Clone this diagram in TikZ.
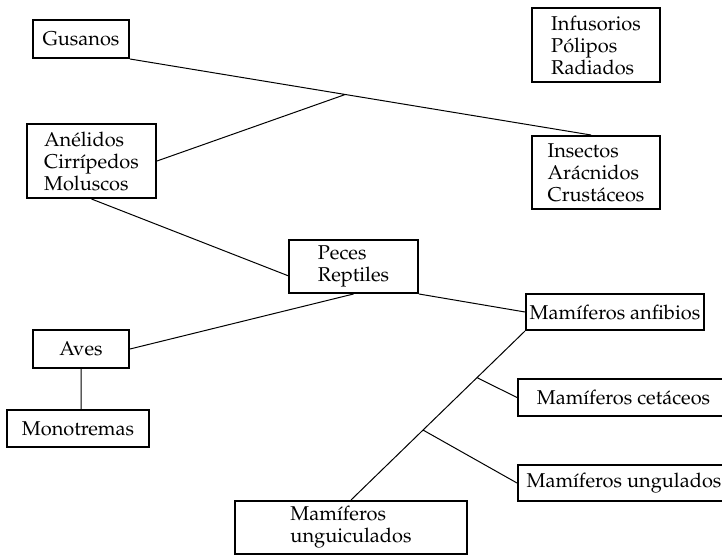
\documentclass[tikz,border=0pt]{standalone}
\usepackage[T1]{fontenc}
\usepackage{mathpazo}
\usepackage{tikz}
\usetikzlibrary{calc, positioning}

\tikzset{
    grupo/.style={draw, line width=2pt, inner sep=0pt, align=left, font=\fontsize{20}{22}\selectfont},
    enlace/.style={line width=1pt}
}

\begin{document}
\begin{tikzpicture}[x=1pt, y=-1pt]
                        \useasboundingbox (0, 0) rectangle (722, 556);
                        \node[grupo, minimum width=96, minimum height=38] (gus) at (81, 39) {Gusanos};
                        \node[grupo, minimum width=129, minimum height=74] (anel) at (91.5, 161) {Anélidos\\Cirrípedos\\Moluscos};
                        \node[grupo, minimum width=128, minimum height=74] (inf) at (596, 45) {Infusorios\\Pólipos\\Radiados};
                        \node[grupo, minimum width=128, minimum height=73] (ins) at (596, 172.5) {Insectos\\Arácnidos\\Crustáceos};
                        \node[grupo, minimum width=129, minimum height=53] (pec) at (353.5, 266.5) {Peces\\Reptiles};
                        \node[grupo, minimum width=96, minimum height=38] (aves) at (81, 349) {Aves};
                        \node[grupo, minimum width=142, minimum height=37] (mono) at (78, 428.5) {Monotremas};
                        \node[grupo, minimum width=178, minimum height=36] (anf) at (615, 312) {Mamíferos anfibios};
                        \node[grupo, minimum width=211, minimum height=37] (cet) at (623.5, 397.5) {Mamíferos cetáceos};
                        \node[grupo, minimum width=212, minimum height=36] (ung) at (624, 483) {Mamíferos ungulados};
                        \node[grupo, minimum width=232, minimum height=53] (ungc) at (351, 527.5) {Mamíferos\\unguiculados};
                        \coordinate (insarr) at ($(ins.north)+(-5, 0)$);
                        \coordinate (j1) at ($(gus.south east)!0.467!(insarr)$);
                        \coordinate (j2) at ($(ungc.north)!0.724!(anf.south west)$);
                        \coordinate (j3) at ($(ungc.north)!0.414!(anf.south west)$);
                        \draw[enlace]
                        (gus.south east) -- (insarr)
                        (anel.east) -- (j1)
                        (anel.south) -- (pec.188)
                        (aves.east) -- (pec.south)
                        (pec.south east) -- (anf.west)
                        (aves.south) -- (aves.south |- mono.north)
                        (ungc.north) -- (anf.south west)
                        (j2) -- (cet.west)
                        (j3) -- (ung.west);
                    \end{tikzpicture}
\end{document}
